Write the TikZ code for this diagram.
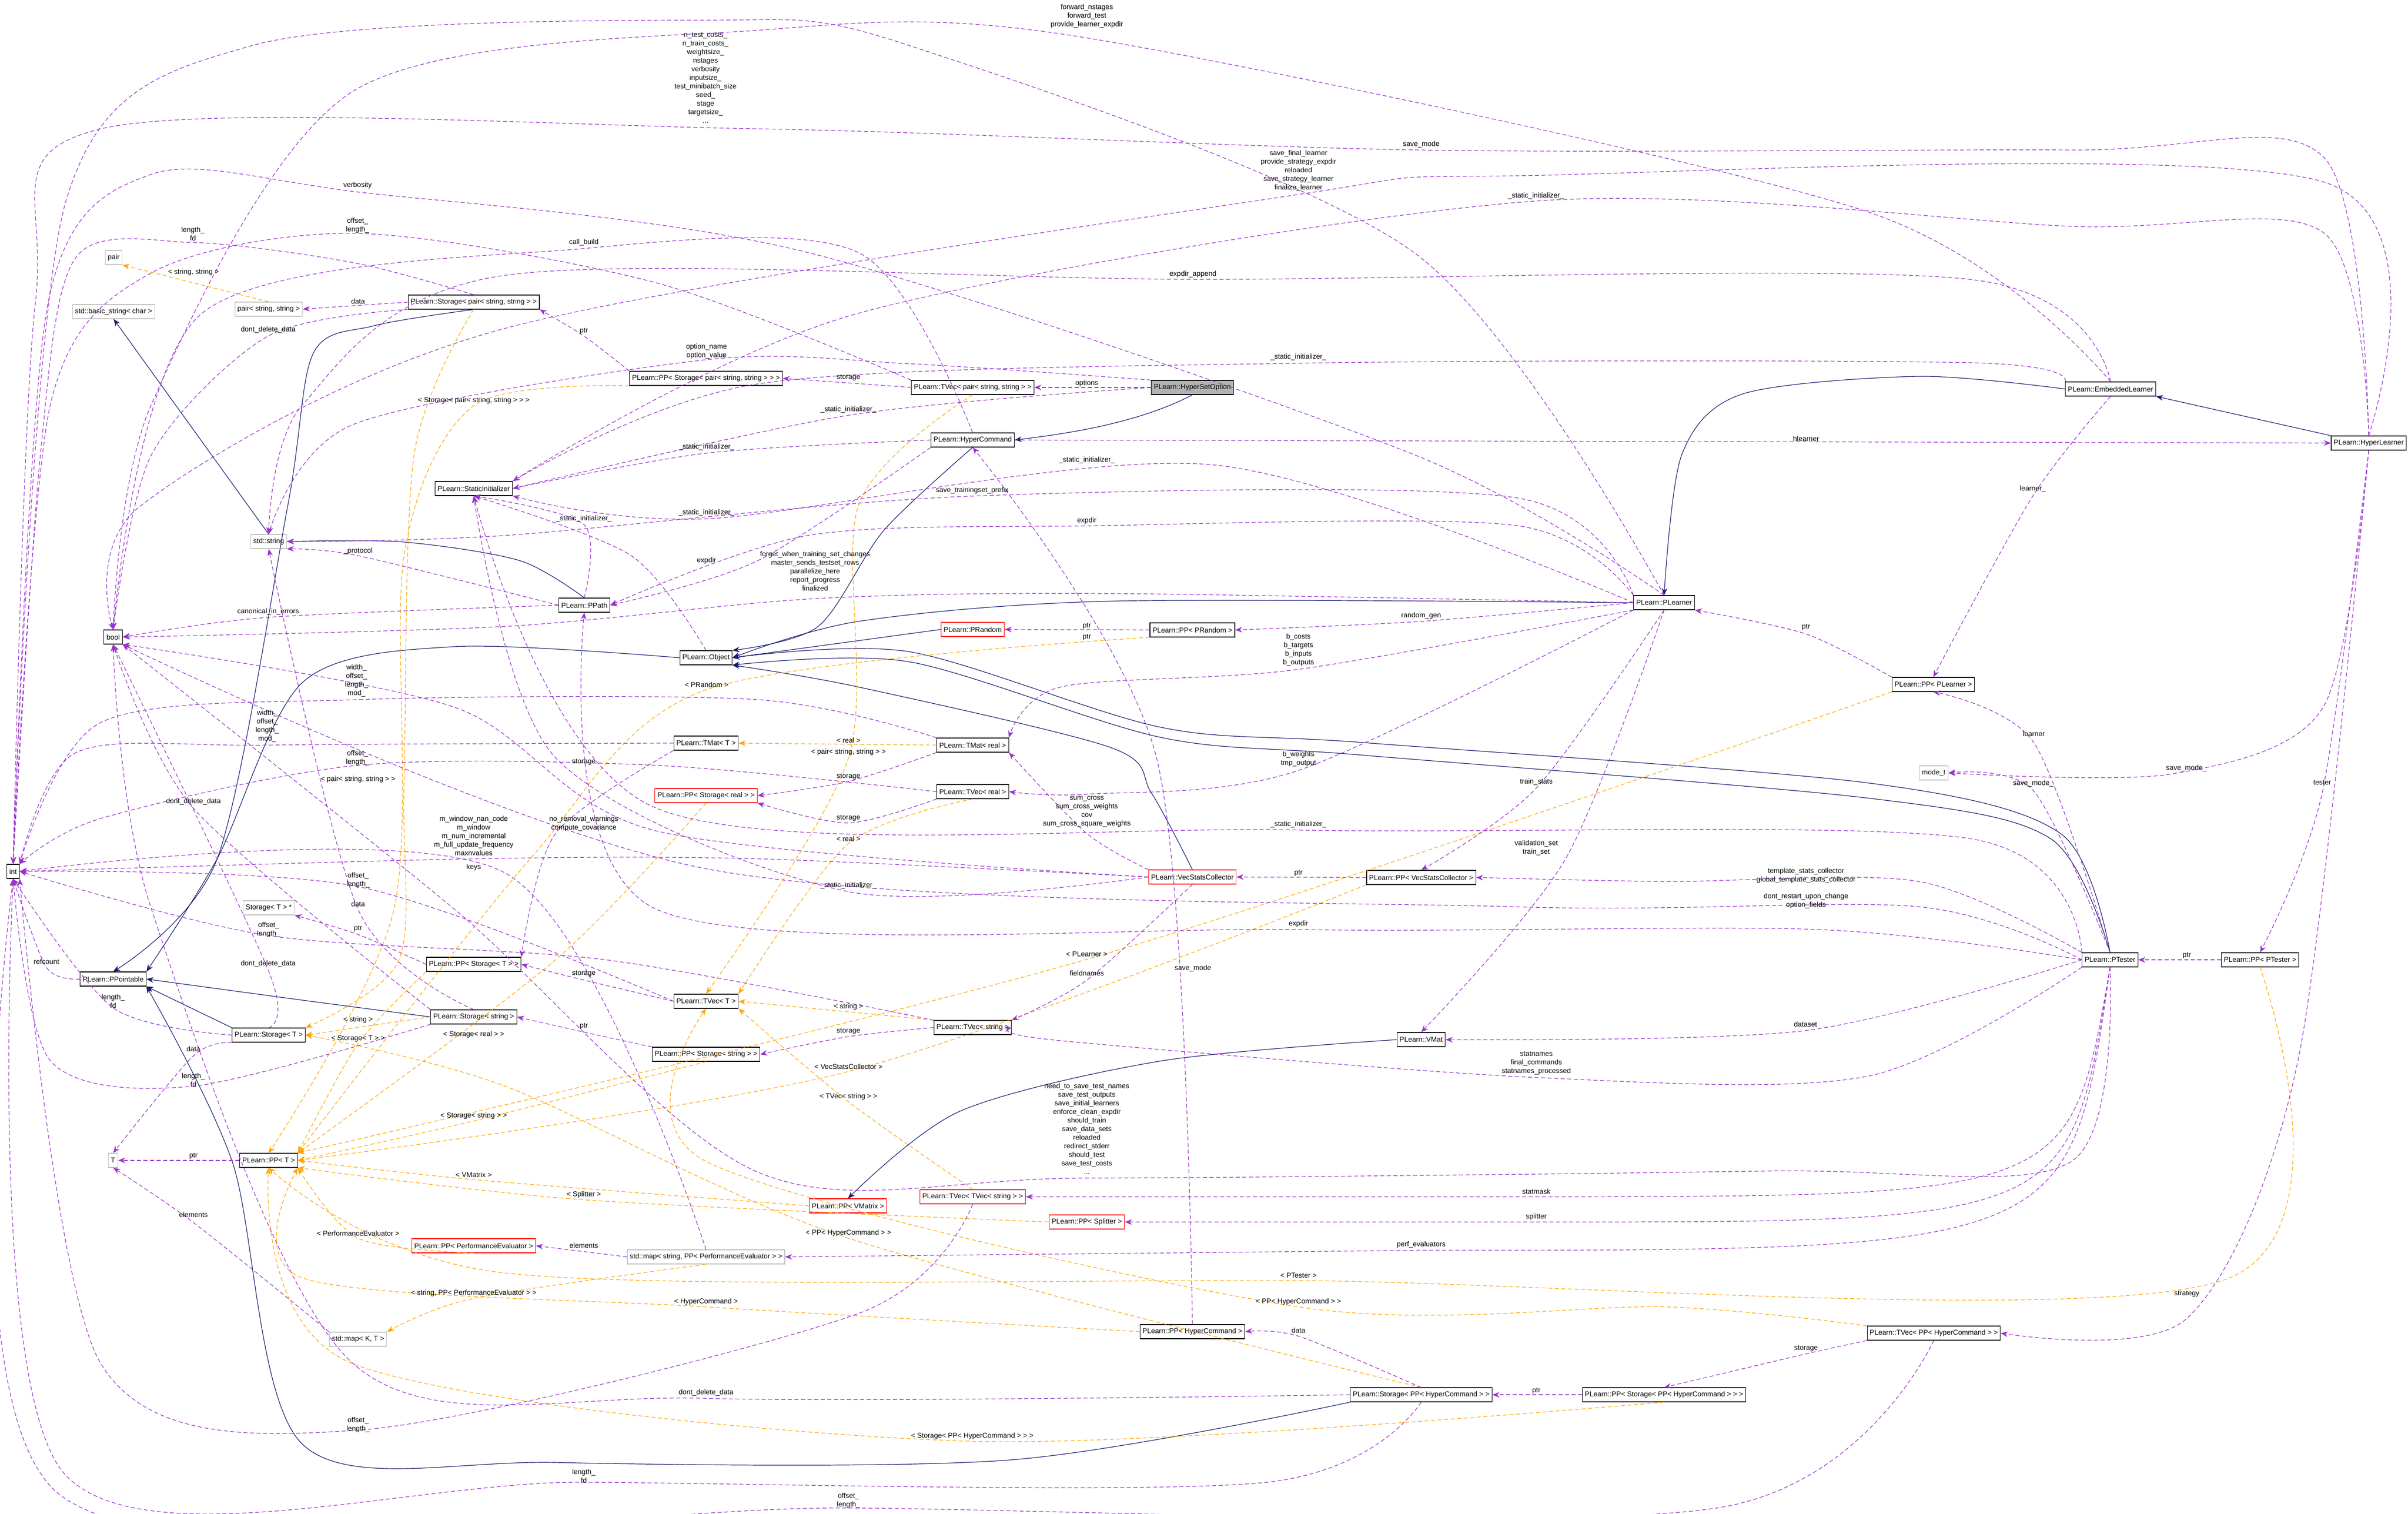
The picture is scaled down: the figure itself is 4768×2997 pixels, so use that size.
\documentclass[tikz,border=0pt]{standalone}
\usepackage{fontspec}
\setmainfont{Liberation Sans}
\usetikzlibrary{arrows.meta}
\definecolor{pur}{RGB}{154,50,205}
\definecolor{nav}{RGB}{25,25,112}
\definecolor{org}{RGB}{255,165,0}
\tikzset{
 cls/.style={draw=black,fill=white,line width=1.2pt,inner xsep=5pt,inner ysep=2pt,minimum height=28pt,font=\fontsize{14}{17}\selectfont},
 gcls/.style={cls,draw=black!25},
 rcls/.style={cls,draw=red},
 lbl/.style={align=center,inner sep=0pt,font=\fontsize{14}{17}\selectfont},
 use/.style={draw=pur,line width=1.2pt,dash pattern=on 8pt off 5pt,-{Stealth[length=14pt,width=11pt]}},
 tpl/.style={draw=org,line width=1.2pt,dash pattern=on 8pt off 5pt,-{Stealth[length=14pt,width=11pt]}},
 inh/.style={draw=nav,line width=1.2pt,-{Stealth[length=14pt,width=11pt]}},
}
\begin{document}
\begin{tikzpicture}[x=1pt,y=-1pt]
\useasboundingbox[fill=white] (0,0) rectangle (4768,2997);
% nodes
\node[gcls] (pair) at (225,510) {pair};
\node[gcls] (bstr) at (225,617) {std::basic\_string< char >};
\node[gcls] (pss) at (532,612) {pair< string, string >};
\node[cls] (stpair) at (938,598) {PLearn::Storage< pair< string, string > >};
\node[cls] (ppstpair) at (1398,749) {PLearn::PP< Storage< pair< string, string > > >};
\node[cls] (sinit) at (938,967) {PLearn::StaticInitializer};
\node[cls] (tvpair) at (1926,767) {PLearn::TVec< pair< string, string > >};
\node[cls,fill=black!30] (hso) at (2361,767) {PLearn::HyperSetOption};
\node[cls] (hc) at (1926,871) {PLearn::HyperCommand};
\node[cls] (emb) at (4179,770) {PLearn::EmbeddedLearner};
\node[cls,anchor=east] (hl) at (4765,877) {PLearn::HyperLearner};
\node[gcls] (str) at (532,1072) {std::string};
\node[cls] (bool) at (224,1261) {bool};
\node[cls] (ppath) at (1157,1198) {PLearn::PPath};
\node[cls] (obj) at (1398,1302) {PLearn::Object};
\node[cls] (tmatT) at (1398,1471) {PLearn::TMat< T >};
\node[rcls] (ppstreal) at (1398,1575) {PLearn::PP< Storage< real > >};
\node[cls] (int) at (26,1725) {int};
\node[gcls] (stTstar) at (532,1797) {Storage< T > *};
\node[cls] (ppstT) at (938,1909) {PLearn::PP< Storage< T > >};
\node[cls] (ppt) at (224,1938) {PLearn::PPointable};
\node[cls] (tvT) at (1398,1982) {PLearn::TVec< T >};
\node[rcls] (prand) at (1926,1246) {PLearn::PRandom};
\node[cls] (pprand) at (2361,1247) {PLearn::PP< PRandom >};
\node[cls] (tmatreal) at (1926,1475) {PLearn::TMat< real >};
\node[cls] (tvreal) at (1926,1567) {PLearn::TVec< real >};
\node[rcls] (vsc) at (2361,1736) {PLearn::VecStatsCollector};
\node[cls] (ppvsc) at (2814,1737) {PLearn::PP< VecStatsCollector >};
\node[cls] (plearner) at (3295,1193) {PLearn::PLearner};
\node[cls] (pplearner) at (3828,1355) {PLearn::PP< PLearner >};
\node[gcls] (modet) at (3829,1530) {mode\_t};
\node[cls] (ptester) at (4178,1900) {PLearn::PTester};
\node[cls] (ppptester) at (4475,1900) {PLearn::PP< PTester >};
\node[cls] (stT) at (532,2049) {PLearn::Storage< T >};
\node[cls] (ststr) at (938,2013) {PLearn::Storage< string >};
\node[cls] (ppststr) at (1398,2087) {PLearn::PP< Storage< string > >};
\node[gcls] (T) at (224,2297) {T};
\node[cls] (ppT) at (532,2297) {PLearn::PP< T >};
\node[rcls] (pppe) at (938,2466) {PLearn::PP< PerformanceEvaluator >};
\node[gcls] (mappe) at (1398,2488) {std::map< string, PP< PerformanceEvaluator > >};
\node[gcls] (mapKT) at (709,2651) {std::map< K, T >};
\node[cls] (tvstr) at (1926,2034) {PLearn::TVec< string >};
\node[cls] (vmat) at (2814,2058) {PLearn::VMat};
\node[rcls] (ppvmatrix) at (1679,2387) {PLearn::PP< VMatrix >};
\node[rcls] (tvtvstr) at (1926,2369) {PLearn::TVec< TVec< string > >};
\node[rcls] (ppsplit) at (2152,2419) {PLearn::PP< Splitter >};
\node[cls] (pphc) at (2361,2636) {PLearn::PP< HyperCommand >};
\node[cls] (sthc) at (2814,2761) {PLearn::Storage< PP< HyperCommand > >};
\node[cls] (ppsthc) at (3295,2761) {PLearn::PP< Storage< PP< HyperCommand > > >};
\node[cls] (tvhc) at (3829,2639) {PLearn::TVec< PP< HyperCommand > >};
% inheritance
\draw[inh] (hso.south) .. controls (2250,840) and (2100,860) .. (hc.east);
\draw[inh] plot[smooth] coordinates {(hc.south) (1750,1050) (1620,1240) (obj.north east)};
\draw[inh] plot[smooth] coordinates {(emb.west) (3800,745) (3450,780) (3330,900) (plearner.north)};
\draw[inh] (hl.north west) -- (emb.south east);
\draw[inh] plot[smooth] coordinates {(plearner.west) (2200,1190) (1700,1230) (obj.east)};
\draw[inh] (prand.west) -- (obj.east);
\draw[inh] plot[smooth] coordinates {(vsc.north) (2280,1570) (2200,1480) (1700,1360) (obj.south east)};
\draw[inh] plot[smooth] coordinates {(ptester.north) (4080,1650) (3700,1550) (2700,1470) (2300,1440) (1800,1290) (obj.east)};
\draw[inh] plot[smooth] coordinates {(ptester.north) (4060,1660) (3700,1580) (2700,1495) (2300,1460) (1800,1310) (obj.south east)};
\draw[inh] plot[smooth] coordinates {(obj.west) (900,1280) (600,1350) (430,1700) (ppt.north east)};
\draw[inh] plot[smooth] coordinates {(ppath.north) (1030,1110) (800,1073) (str.east)};
\draw[inh] (str.north) -- (bstr.south);
\draw[inh] plot[smooth] coordinates {(stpair.south) (740,645) (620,700) (570,1000) (430,1700) (ppt.north)};
\draw[inh] plot[smooth] coordinates {(ststr.west) (600,1980) (ppt.east)};
\draw[inh] (stT.north west) -- (ppt.south east);
\draw[inh] plot[smooth] coordinates {(sthc.south west) (2000,2890) (1100,2895) (600,2860) (460,2300) (ppt.south east)};
\draw[inh] plot[smooth] coordinates {(vmat.west) (2300,2100) (1900,2200) (ppvmatrix.north)};
% template instantiation
\draw[tpl] (pss.north) -- (pair.south east);
\draw[tpl] plot[smooth] coordinates {(stpair.south) (820,900) (800,1553) (790,1900) (stT.north east)};
\draw[tpl] plot[smooth] coordinates {(ppstpair.south west) (938,803) (800,1100) (780,1800) (ppT.north)};
\draw[tpl] plot[smooth] coordinates {(pprand.south west) (1399,1365) (1050,1700) (ppT.north east)};
\draw[tpl] (tmatreal.west) -- (tmatT.east);
\draw[tpl] plot[smooth] coordinates {(tvpair.south) (1700,1000) (1680,1500) (tvT.north)};
\draw[tpl] plot[smooth] coordinates {(tvreal.south) (1680,1670) (tvT.north east)};
\draw[tpl] plot[smooth] coordinates {(ppstreal.south) (1100,1900) (ppT.north east)};
\draw[tpl] (ststr.west) -- (stT.east);
\draw[tpl] plot[smooth] coordinates {(tvstr.north west) (1680,2003) (tvT.east)};
\draw[tpl] plot[smooth] coordinates {(ppstT.south west) (709,2066) (ppT.north east)};
\draw[tpl] plot[smooth] coordinates {(ppststr.south) (938,2219) (ppT.east)};
\draw[tpl] plot[smooth] coordinates {(ppvsc.south west) (1680,2121) (ppT.east)};
\draw[tpl] plot[smooth] coordinates {(pplearner.south west) (2152,1899) (ppT.north east)};
\draw[tpl] plot[smooth] coordinates {(tvtvstr.north) (1680,2181) (tvT.south east)};
\draw[tpl] plot[smooth] coordinates {(ppvmatrix.west) (938,2335) (ppT.east)};
\draw[tpl] plot[smooth] coordinates {(ppsplit.west) (1156,2375) (ppT.south east)};
\draw[tpl] plot[smooth] coordinates {(pppe.south) (709,2451) (ppT.south east)};
\draw[tpl] plot[smooth] coordinates {(mappe.south) (938,2570) (mapKT.north east)};
\draw[tpl] plot[smooth] coordinates {(pphc.west) (1398,2587) (600,2530) (ppT.south east)};
\draw[tpl] plot[smooth] coordinates {(ppptester.south) (4400,2535) (2571,2535) (1000,2520) (ppT.south)};
\draw[tpl] plot[smooth] coordinates {(tvhc.north west) (3300,2587) (2571,2587) (1400,2300) (tvT.south)};
\draw[tpl] plot[smooth] coordinates {(sthc.north) (1680,2451) (1000,2150) (stT.east)};
\draw[tpl] plot[smooth] coordinates {(ppsthc.south) (1925,2853) (700,2700) (ppT.south)};
% usage
\draw[use] (stpair.west) -- (pss.east);
\draw[use] plot[smooth] coordinates {(stpair.south west) (531,665) (300,900) (bool.north)};
\draw[use] plot[smooth] coordinates {(stpair.north) (700,520) (382,480) (150,510) (80,900) (int.north)};
\draw[use] plot[smooth] coordinates {(ppstpair.north west) (1156,665) (stpair.south east)};
\draw[use] plot[smooth] coordinates {(tvpair.west) (1680,758) (ppstpair.east)};
\draw[use] plot[smooth] coordinates {(tvpair.north west) (1300,560) (708,462) (300,540) (100,800) (int.north)};
\draw[use] (hso.west) -- (tvpair.east);
\draw[use] plot[smooth] coordinates {(hso.north west) (1800,720) (1399,712) (700,840) (str.north)};
\draw[use] plot[smooth] coordinates {(hso.west) (1680,822) (sinit.east)};
\draw[use] plot[smooth] coordinates {(hc.west) (1399,897) (sinit.east)};
\draw[use] (hc.east) -- (hl.west);
\draw[use] plot[smooth] coordinates {(emb.north west) (3900,718) (2571,719) (1500,760) (sinit.north east)};
\draw[use] plot[smooth] coordinates {(emb.south) (4025,982) (pplearner.north)};
\draw[use] plot[smooth] coordinates {(emb.north) (3700,420) (2152,75) (1500,60) (700,180) (300,800) (bool.north)};
\draw[use] plot[smooth] coordinates {(emb.north) (3900,553) (2362,553) (1000,545) (600,800) (str.north)};
\draw[use] plot[smooth] coordinates {(hl.north) (4600,360) (3000,348) (2571,385) (1000,650) (280,1000) (bool.north)};
\draw[use] plot[smooth] coordinates {(hl.north) (4600,310) (4100,297) (2814,297) (1500,255) (200,255) (70,600) (int.north)};
\draw[use] plot[smooth] coordinates {(hl.north) (4600,460) (4100,448) (3041,398) (1700,620) (sinit.north east)};
\draw[use] plot[smooth] coordinates {(hl.south) (4600,1400) (4300,1532) (modet.east)};
\draw[use] plot[smooth] coordinates {(hl.south) (4598,1570) (ppptester.north)};
\draw[use] plot[smooth] coordinates {(hl.south) (4550,2100) (4330,2610) (tvhc.east)};
\draw[use] plot[smooth] coordinates {(plearner.north) (2800,500) (1800,90) (1397,40) (500,90) (130,400) (int.north)};
\draw[use] plot[smooth] coordinates {(plearner.west) (2400,920) (1399,1027) (sinit.south east)};
\draw[use] plot[smooth] coordinates {(plearner.north west) (3000,1040) (2152,1041) (1600,1060) (ppath.east)};
\draw[use] plot[smooth] coordinates {(plearner.west) (2200,1175) (1614,1185) (1000,1240) (bool.east)};
\draw[use] plot[smooth] coordinates {(plearner.west) (2814,1230) (pprand.east)};
\draw[use] plot[smooth] coordinates {(plearner.south west) (2571,1325) (2100,1360) (tmatreal.north east)};
\draw[use] plot[smooth] coordinates {(plearner.south west) (2571,1525) (2152,1572) (tvreal.east)};
\draw[use] plot[smooth] coordinates {(plearner.south) (3042,1560) (ppvsc.north)};
\draw[use] plot[smooth] coordinates {(plearner.south) (3100,1700) (vmat.north)};
\draw[use] plot[smooth] coordinates {(plearner.north west) (3000,985) (1925,982) (1000,1060) (str.east)};
\draw[use] plot[smooth] coordinates {(plearner.north) (2800,900) (1600,500) (708,380) (300,345) (95,600) (int.north)};
\draw[use] plot[smooth] coordinates {(pplearner.north west) (3576,1255) (plearner.south east)};
\draw[use] plot[smooth] coordinates {(ptester.north) (4027,1470) (pplearner.south)};
\draw[use] plot[smooth] coordinates {(ptester.north) (4026,1565) (modet.east)};
\draw[use] plot[smooth] coordinates {(ptester.north west) (3800,1745) (3300,1745) (ppvsc.east)};
\draw[use] plot[smooth] coordinates {(ptester.south west) (3700,2130) (3042,2133) (2100,2060) (tvstr.east)};
\draw[use] plot[smooth] coordinates {(ptester.west) (3575,2040) (vmat.east)};
\draw[use] plot[smooth] coordinates {(ptester.west) (3600,1840) (2571,1840) (1300,1800) (ppath.south)};
\draw[use] plot[smooth] coordinates {(ptester.north west) (3900,1660) (2571,1643) (1300,1600) (sinit.south)};
\draw[use] plot[smooth] coordinates {(ptester.south) (4100,2300) (3500,2318) (2152,2332) (1500,2320) (900,1800) (bool.south east)};
\draw[use] (ptester.south) .. controls (4100,2368) .. (3042,2369) -- (tvtvstr.east);
\draw[use] (ptester.south) .. controls (4100,2419) .. (3042,2419) -- (ppsplit.east);
\draw[use] (ptester.south) .. controls (4100,2475) .. (2814,2475) -- (mappe.east);
\draw[use] (ppptester.west) -- (ptester.east);
\draw[use] plot[smooth] coordinates {(ptester.west) (3800,1795) (3000,1795) (1400,1720) (bool.south east)};
\draw[use] plot[smooth] coordinates {(ppath.west) (709,1100) (str.south east)};
\draw[use] plot[smooth] coordinates {(ppath.west) (531,1222) (bool.east)};
\draw[use] plot[smooth] coordinates {(ppath.north) (1156,1038) (sinit.south)};
\draw[use] plot[smooth] coordinates {(obj.north) (1250,1100) (sinit.south)};
\draw[use] (pprand.west) -- (prand.east);
\draw[use] plot[smooth] coordinates {(tmatT.west) (529,1475) (150,1490) (int.north east)};
\draw[use] plot[smooth] coordinates {(tmatreal.north west) (1500,1385) (706,1385) (200,1430) (int.north east)};
\draw[use] plot[smooth] coordinates {(tmatT.south west) (1100,1650) (ppstT.north east)};
\draw[use] plot[smooth] coordinates {(tmatreal.south west) (1680,1547) (ppstreal.east)};
\draw[use] plot[smooth] coordinates {(tvreal.south west) (1680,1629) (ppstreal.south east)};
\draw[use] plot[smooth] coordinates {(tvreal.west) (1300,1515) (708,1515) (200,1620) (int.north east)};
\draw[use] plot[smooth] coordinates {(vsc.north west) (2152,1650) (tmatreal.south east)};
\draw[use] plot[smooth] coordinates {(vsc.west) (1500,1700) (938,1700) (int.east)};
\draw[use] plot[smooth] coordinates {(vsc.west) (1300,1645) (900,1400) (bool.south east)};
\draw[use] plot[smooth] coordinates {(vsc.south) (2152,1940) (tvstr.north east)};
\draw[use] plot[smooth] coordinates {(vsc.west) (1680,1765) (1100,1500) (sinit.south)};
\draw[use] (ppvsc.west) -- (vsc.east);
\draw[use] plot[smooth] coordinates {(ppstT.west) (709,1850) (stTstar.south east)};
\draw[use] plot[smooth] coordinates {(tvT.west) (1156,1940) (ppstT.east)};
\draw[use] plot[smooth] coordinates {(tvT.west) (709,1755) (int.east)};
\draw[use] plot[smooth] coordinates {(stT.south west) (383,2090) (T.north)};
\draw[use] plot[smooth] coordinates {(stT.north) (531,1920) (bool.south)};
\draw[use] plot[smooth] coordinates {(stT.west) (224,1995) (int.south)};
\draw[use] (ppT.west) -- (T.east);
\draw[use] plot[smooth] coordinates {(mapKT.north west) (383,2420) (T.south)};
\draw[use] plot[smooth] coordinates {(ppt.west) (92,1915) (int.south)};
\draw[use] plot[smooth] coordinates {(ststr.north) (709,1800) (str.south)};
\draw[use] plot[smooth] coordinates {(ststr.north west) (383,1600) (bool.south)};
\draw[use] plot[smooth] coordinates {(ststr.south west) (383,2150) (100,2100) (int.south)};
\draw[use] plot[smooth] coordinates {(ppststr.north west) (1156,2043) (ststr.east)};
\draw[use] plot[smooth] coordinates {(tvstr.west) (1680,2052) (ppststr.east)};
\draw[use] plot[smooth] coordinates {(tvstr.north west) (1200,1900) (532,1852) (int.east)};
\draw[use] (mappe.west) -- (pppe.east);
\draw[use] plot[smooth] coordinates {(mappe.north) (1000,1728) (int.east)};
\draw[use] plot[smooth] coordinates {(pphc.north) (2290,1500) (hc.south)};
\draw[use] plot[smooth] coordinates {(sthc.north) (2571,2645) (pphc.east)};
\draw[use] plot[smooth] coordinates {(sthc.west) (1398,2768) (700,2700) (300,1800) (bool.south)};
\draw[use] plot[smooth] coordinates {(sthc.south) (2500,2935) (1156,2934) (130,2920) (int.south)};
\draw[use] (ppsthc.west) -- (sthc.east);
\draw[use] plot[smooth] coordinates {(tvhc.south west) (3576,2680) (ppsthc.north)};
\draw[use] plot[smooth] coordinates {(tvhc.south) (3400,2985) (1680,2985) (120,2960) (int.south)};
\draw[use] plot[smooth] coordinates {(tvtvstr.south) (1700,2600) (709,2831) (200,2700) (int.south east)};
\draw[use] plot[smooth] coordinates {(hc.north) (1700,500) (1156,492) (400,620) (bool.north)};
\draw[use] plot[smooth] coordinates {(hc.south west) (1500,1110) (ppath.east)};
% labels
\node[lbl] (l1) at (1397,154) {n\_test\_costs\_\\n\_train\_costs\_\\weightsize\_\\nstages\\verbosity\\inputsize\_\\test\_minibatch\_size\\seed\_\\stage\\targetsize\_\\...};
\node[lbl] (l2) at (708,367) {verbosity};
\node[lbl] (l3) at (708,446) {offset\_\\length\_};
\node[lbl] (l4) at (382,463) {length\_\\fd};
\node[lbl] (l5) at (1156,480) {call\_build};
\node[lbl] (l6) at (383,539) {< string, string >};
\node[lbl] (l7) at (709,596) {data};
\node[lbl] (l8) at (531,653) {dont\_delete\_data};
\node[lbl] (l9) at (1156,655) {ptr};
\node[lbl] (l10) at (1399,695) {option\_name\\option\_value};
\node[lbl] (l11) at (938,793) {< Storage< pair< string, string > > >};
\node[lbl] (l12) at (1399,885) {\_static\_initializer\_};
\node[lbl] (l13) at (2152,32) {forward\_nstages\\forward\_test\\provide\_learner\_expdir};
\node[lbl] (l14) at (2814,286) {save\_mode};
\node[lbl] (l15) at (2571,338) {save\_final\_learner\\provide\_strategy\_expdir\\reloaded\\save\_strategy\_learner\\finalize\_learner};
\node[lbl] (l16) at (3041,388) {\_static\_initializer\_};
\node[lbl] (l17) at (2362,543) {expdir\_append};
\node[lbl] (l18) at (2571,707) {\_static\_initializer\_};
\node[lbl] (l19) at (1680,747) {storage};
\node[lbl] (l20) at (2152,759) {options};
\node[lbl] (l21) at (1680,811) {\_static\_initializer\_};
\node[lbl] (l22) at (2152,911) {\_static\_initializer\_};
\node[lbl] (l23) at (1925,971) {save\_trainingset\_prefix};
\node[lbl] (l24) at (3576,868) {hlearner};
\node[lbl] (l25) at (4025,968) {learner\_};
\node[lbl] (l26) at (1156,1027) {\_static\_initializer\_};
\node[lbl] (l27) at (1399,1015) {\_static\_initializer\_};
\node[lbl] (l28) at (709,1091) {\_protocol};
\node[lbl] (l29) at (1399,1110) {expdir};
\node[lbl] (l30) at (531,1211) {canonical\_in\_errors};
\node[lbl] (l31) at (706,1347) {width\_\\offset\_\\length\_\\mod\_};
\node[lbl] (l32) at (1399,1355) {< PRandom >};
\node[lbl] (l33) at (529,1437) {width\_\\offset\_\\length\_\\mod\_};
\node[lbl] (l34) at (708,1500) {offset\_\\length\_};
\node[lbl] (l35) at (1156,1508) {storage};
\node[lbl] (l36) at (709,1543) {< pair< string, string > >};
\node[lbl] (l37) at (383,1587) {dont\_delete\_data};
\node[lbl] (l38) at (938,1654) {m\_window\_nan\_code\\m\_window\\m\_num\_incremental\\m\_full\_update\_frequency\\maxnvalues};
\node[lbl] (l39) at (1156,1630) {no\_removal\_warnings\\compute\_covariance};
\node[lbl] (l40) at (938,1717) {keys};
\node[lbl] (l41) at (709,1742) {offset\_\\length\_};
\node[lbl] (l42) at (709,1789) {data};
\node[lbl] (l43) at (532,1840) {offset\_\\length\_};
\node[lbl] (l44) at (709,1838) {ptr};
\node[lbl] (l45) at (92,1903) {refcount};
\node[lbl] (l46) at (531,1908) {dont\_delete\_data};
\node[lbl] (l47) at (1156,1927) {storage};
\node[lbl] (l48) at (224,1982) {length\_\\fd};
\node[lbl] (l49) at (2152,1031) {expdir};
\node[lbl] (l50) at (1614,1130) {forget\_when\_training\_set\_changes\\master\_sends\_testset\_rows\\parallelize\_here\\report\_progress\\finalized};
\node[lbl] (l51) at (2814,1219) {random\_gen};
\node[lbl] (l52) at (2152,1239) {ptr};
\node[lbl] (l53) at (2152,1261) {ptr};
\node[lbl] (l54) at (2571,1286) {b\_costs\\b\_targets\\b\_inputs\\b\_outputs};
\node[lbl] (l55) at (1680,1465) {< real >};
\node[lbl] (l56) at (1680,1489) {< pair< string, string > >};
\node[lbl] (l57) at (2571,1502) {b\_weights\\tmp\_output};
\node[lbl] (l58) at (1680,1537) {storage};
\node[lbl] (l59) at (3042,1548) {train\_stats};
\node[lbl] (l60) at (2152,1607) {sum\_cross\\sum\_cross\_weights\\cov\\sum\_cross\_square\_weights};
\node[lbl] (l61) at (1680,1619) {storage};
\node[lbl] (l62) at (2571,1632) {\_static\_initializer\_};
\node[lbl] (l63) at (1680,1660) {< real >};
\node[lbl] (l64) at (3042,1678) {validation\_set\\train\_set};
\node[lbl] (l65) at (2571,1728) {ptr};
\node[lbl] (l66) at (1680,1753) {\_static\_initializer\_};
\node[lbl] (l67) at (2571,1829) {expdir};
\node[lbl] (l68) at (2152,1889) {< PLearner >};
\node[lbl] (l69) at (2362,1917) {save\_mode};
\node[lbl] (l70) at (2152,1926) {fieldnames};
\node[lbl] (l71) at (1680,1993) {< string >};
\node[lbl] (l72) at (3576,1241) {ptr};
\node[lbl] (l73) at (4027,1452) {learner};
\node[lbl] (l74) at (4329,1521) {save\_mode\_};
\node[lbl] (l75) at (4026,1551) {save\_mode\_};
\node[lbl] (l76) at (4598,1549) {tester};
\node[lbl] (l77) at (3576,1733) {template\_stats\_collector\\global\_template\_stats\_collector};
\node[lbl] (l78) at (3576,1783) {dont\_restart\_upon\_change\\option\_fields};
\node[lbl] (l79) at (4330,1891) {ptr};
\node[lbl] (l80) at (709,2019) {< string >};
\node[lbl] (l81) at (709,2056) {< Storage< T > >};
\node[lbl] (l82) at (938,2048) {< Storage< real > >};
\node[lbl] (l83) at (1156,2031) {ptr};
\node[lbl] (l84) at (383,2076) {data};
\node[lbl] (l85) at (383,2138) {length\_\\fd};
\node[lbl] (l86) at (938,2209) {< Storage< string > >};
\node[lbl] (l87) at (383,2288) {ptr};
\node[lbl] (l88) at (938,2325) {< VMatrix >};
\node[lbl] (l89) at (1156,2365) {< Splitter >};
\node[lbl] (l90) at (383,2404) {elements};
\node[lbl] (l91) at (709,2441) {< PerformanceEvaluator >};
\node[lbl] (l92) at (1156,2465) {elements};
\node[lbl] (l93) at (938,2560) {< string, PP< PerformanceEvaluator > >};
\node[lbl] (l94) at (1398,2577) {< HyperCommand >};
\node[lbl] (l95) at (1398,2757) {dont\_delete\_data};
\node[lbl] (l96) at (709,2820) {offset\_\\length\_};
\node[lbl] (l97) at (1156,2922) {length\_\\fd};
\node[lbl] (l98) at (1680,2041) {storage};
\node[lbl] (l99) at (3042,2104) {statnames\\final\_commands\\statnames\_processed};
\node[lbl] (l100) at (1680,2111) {< VecStatsCollector >};
\node[lbl] (l101) at (1680,2171) {< TVec< string > >};
\node[lbl] (l102) at (2152,2234) {need\_to\_save\_test\_names\\save\_test\_outputs\\save\_initial\_learners\\enforce\_clean\_expdir\\should\_train\\save\_data\_sets\\reloaded\\redirect\_stderr\\should\_test\\save\_test\_costs\\...};
\node[lbl] (l103) at (3042,2358) {statmask};
\node[lbl] (l104) at (3042,2409) {splitter};
\node[lbl] (l105) at (1680,2441) {< PP< HyperCommand > >};
\node[lbl] (l106) at (2814,2464) {perf\_evaluators};
\node[lbl] (l107) at (2571,2525) {< PTester >};
\node[lbl] (l108) at (2571,2577) {< PP< HyperCommand > >};
\node[lbl] (l109) at (2571,2633) {data};
\node[lbl] (l110) at (3042,2753) {ptr};
\node[lbl] (l111) at (1925,2843) {< Storage< PP< HyperCommand > > >};
\node[lbl] (l112) at (1680,2970) {offset\_\\length\_};
\node[lbl] (l113) at (3575,2027) {dataset};
\node[lbl] (l114) at (4330,2561) {strategy};
\node[lbl] (l115) at (3576,2669) {storage};
\end{tikzpicture}
\end{document}
